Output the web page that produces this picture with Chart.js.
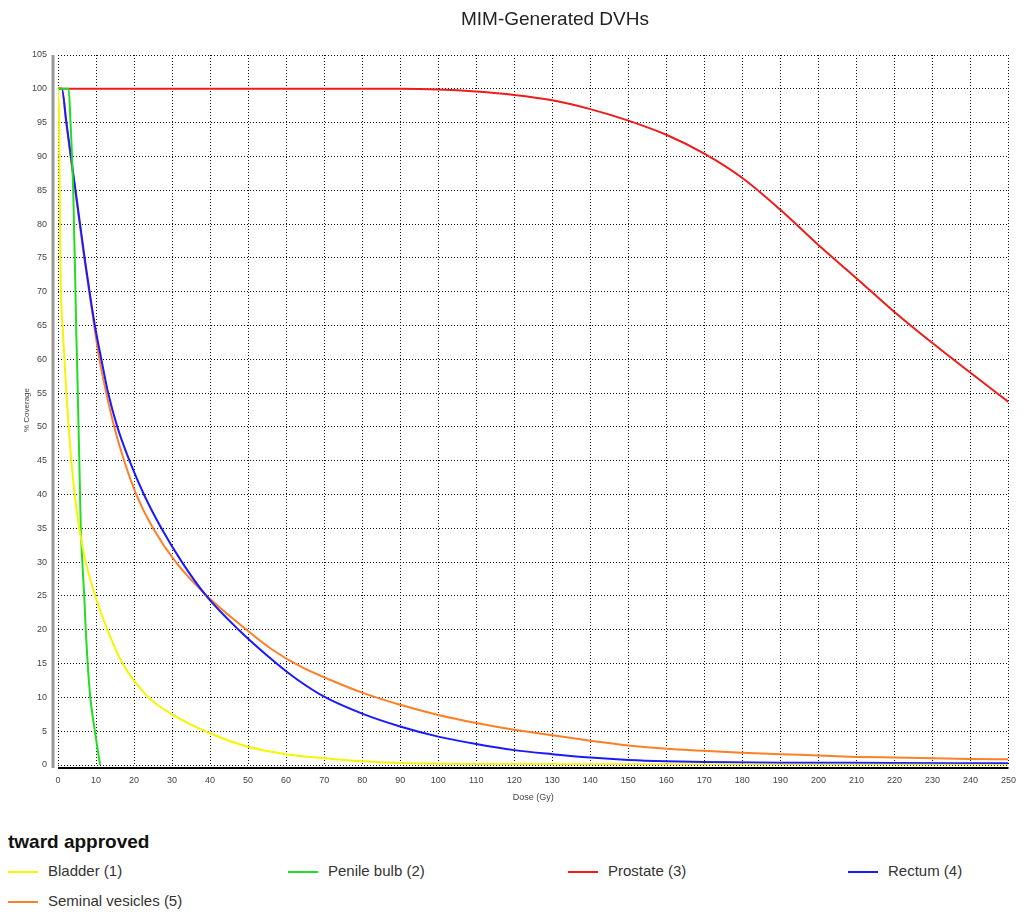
<!DOCTYPE html>
<html>
<head>
<meta charset="utf-8">
<script src="https://cdn.jsdelivr.net/npm/chart.js@4"></script>
<style>
  body { margin: 0; background: #fff; font-family: "Liberation Sans", Arial, sans-serif; }
  #wrap { position: relative; width: 1026px; height: 916px; }
  #title { position: absolute; top: 8px; left: 0; width: 1110px; text-align: center; font-size: 19px; color: #222; }
  #chartBox { position: absolute; left: 0; top: 0; width: 1026px; height: 815px; }
  #legTitle { position: absolute; left: 8px; top: 831px; font-size: 19px; font-weight: bold; color: #111; }
  .item { position: absolute; font-size: 15px; color: #333; line-height: 16px; }
  .item span.sw { display: inline-block; width: 30px; height: 2px; vertical-align: middle; margin-right: 10px; }
</style>
</head>
<body>
<div id="wrap">
  <div id="chartBox"><canvas id="myChart"></canvas></div>
  <div id="title">MIM-Generated DVHs</div>
  <div id="legTitle">tward approved</div>
  <div id="legend"></div>
</div>
<script>
const names = ["Bladder (1)", "Penile bulb (2)", "Prostate (3)", "Rectum (4)", "Seminal vesicles (5)"];
const colors = ["#f5f500", "#22dd22", "#ee1c1c", "#1a1aff", "#ff7f27"];

const bladderDose = [0, 0.3, 0.6, 1.3, 1.7, 2.2, 2.8, 3.5, 4.4, 5.6, 7.3, 9.8, 13, 17, 23.8, 30, 40, 50, 60, 70, 80, 90, 110, 150, 200, 250];
const bladderCov  = [100, 95, 75, 64, 60, 55, 50, 45, 40, 35, 30, 25, 20, 15, 10, 7.5, 4.7, 2.7, 1.6, 1.0, 0.55, 0.3, 0.15, 0.1, 0.05, 0];

const penileDose = [0, 2.8, 3.3, 3.7, 4.0, 4.2, 4.4, 4.6, 4.8, 5.0, 5.2, 5.4, 5.6, 5.8, 6.0, 6.4, 6.9, 7.3, 7.8, 8.5, 9.7, 10.5, 11.1];
const penileCov  = [100, 100, 95, 90, 85, 80, 75, 70, 64, 60, 55, 50, 45, 40, 35, 30, 25, 20, 15, 10, 5, 2, 0];

const prostateDose = [0, 50, 90, 100, 110, 120, 130, 140, 150, 160, 170, 180, 190, 200, 210, 220, 230, 240, 250];
const prostateCov  = [100, 100, 100, 99.9, 99.6, 99.1, 98.3, 97.0, 95.3, 93.2, 90.4, 86.8, 82.1, 76.9, 72, 67, 62.4, 58, 53.7];

const rectumDose = [0, 1, 2.2, 3.4, 4.6, 5.8, 7.0, 8.3, 9.7, 11.4, 13.2, 15.6, 18.8, 22.6, 27.2, 32.6, 39, 47.5, 57.5, 63, 70, 80, 90, 100, 110, 120, 130, 140, 150, 160, 170, 190, 220, 250];
const rectumCov  = [100, 100, 95, 90, 85, 80, 75, 70, 65, 60, 55, 50, 45, 40, 35, 30, 25, 20, 15, 12.6, 10.1, 7.6, 5.7, 4.2, 3.1, 2.2, 1.6, 1.1, 0.75, 0.55, 0.45, 0.35, 0.3, 0.25];

const seminalDose = [0, 1, 2.2, 3.3, 4.5, 5.7, 6.9, 8.2, 9.5, 10.9, 12.7, 14.8, 17.4, 20.6, 25.0, 31.0, 39.2, 49.6, 56.5, 64, 72, 80, 90, 100, 110, 120, 130, 140, 150, 160, 170, 180, 190, 200, 210, 220, 230, 240, 250];
const seminalCov  = [100, 100, 95, 90, 85, 80, 75, 70, 65, 60, 55, 50, 45, 40, 35, 30, 25, 20, 17, 14.5, 12.5, 10.7, 8.9, 7.4, 6.2, 5.2, 4.4, 3.6, 2.9, 2.4, 2.1, 1.8, 1.6, 1.4, 1.2, 1.1, 1.0, 0.9, 0.85];

const xTicks = { min: 0, max: 250, step: 10 };
const yTicks = { min: 0, max: 105, step: 5 };

const doses = [bladderDose, penileDose, prostateDose, rectumDose, seminalDose];
const covs = [bladderCov, penileCov, prostateCov, rectumCov, seminalCov];

function pts(xs, ys) {
  return xs.map((x, i) => ({ x: x, y: ys[i] }));
}

// gray left rule + solid black base line like the original plot
const axisLines = {
  id: 'axisLines',
  afterDraw(chart) {
    const { ctx, chartArea } = chart;
    ctx.save();
    ctx.strokeStyle = '#999';
    ctx.lineWidth = 3;
    ctx.beginPath();
    ctx.moveTo(chartArea.left - 5, chartArea.top);
    ctx.lineTo(chartArea.left - 5, chartArea.bottom + 3);
    ctx.stroke();
    ctx.strokeStyle = '#000';
    ctx.lineWidth = 2;
    ctx.beginPath();
    ctx.moveTo(chartArea.left, chartArea.bottom + 3);
    ctx.lineTo(chartArea.right, chartArea.bottom + 3);
    ctx.stroke();
    ctx.restore();
  }
};

const tickFont = { family: "'Liberation Sans', Arial, sans-serif", size: 9 };

const config = {
  type: 'line',
  data: {
    datasets: names.map((n, i) => ({
      label: n,
      data: pts(doses[i], covs[i]),
      borderColor: colors[i],
      borderWidth: 2,
      pointRadius: 0,
      fill: false,
      cubicInterpolationMode: 'monotone'
    }))
  },
  options: {
    responsive: true,
    maintainAspectRatio: false,
    animation: false,
    layout: { padding: { left: 0, right: 10, top: 55, bottom: 0 } },
    scales: {
      x: {
        type: 'linear',
        min: xTicks.min,
        max: xTicks.max,
        afterFit: (s) => { s.height = 50; },
        ticks: { stepSize: xTicks.step, color: '#444', font: tickFont, padding: 10, maxRotation: 0, autoSkip: false },
        grid: { color: '#111', lineWidth: 1, drawTicks: false },
        border: { display: false, dash: [1, 2] },
        title: { display: true, text: 'Dose (Gy)', color: '#444', font: tickFont, padding: { top: 0, bottom: 12 } }
      },
      y: {
        min: yTicks.min,
        max: yTicks.max,
        afterFit: (s) => { s.width = 58; },
        ticks: { stepSize: yTicks.step, color: '#444', font: tickFont, padding: 11, autoSkip: false },
        grid: { color: '#111', lineWidth: 1, drawTicks: false },
        border: { display: false, dash: [1, 2] },
        title: { display: true, text: '% Coverage', color: '#444', font: { family: tickFont.family, size: 8 }, padding: { top: 22, bottom: 0 } }
      }
    },
    plugins: {
      legend: { display: false },
      tooltip: { enabled: false }
    }
  },
  plugins: [axisLines]
};

new Chart(document.getElementById('myChart'), config);

// html legend, 4 columns
const legend = document.getElementById('legend');
const colX = [8, 288, 568, 848];
names.forEach((n, i) => {
  const d = document.createElement('div');
  d.className = 'item';
  d.style.left = colX[i % 4] + 'px';
  d.style.top = (863 + Math.floor(i / 4) * 30) + 'px';
  d.innerHTML = '<span class="sw" style="background:' + colors[i] + '"></span>' + n;
  legend.appendChild(d);
});
</script>
</body>
</html>
